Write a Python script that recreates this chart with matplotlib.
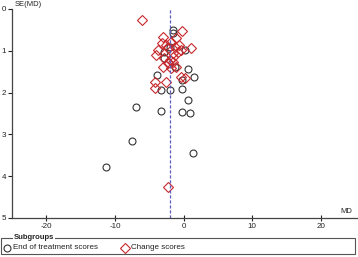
import matplotlib.pyplot as plt
from matplotlib.patches import Rectangle
from matplotlib.lines import Line2D

plt.rcParams['font.family'] = ['Liberation Sans', 'DejaVu Sans']

# ---------- DATA ----------
# End of treatment scores (circles)
eot_md = [-1.6, -1.6, -3.9, -3.3, -1.9, -7.0, -3.3, -2.8, -2.8, -1.2, 0.15,
          0.6, 1.5, -0.2, -0.25, 0.6, -0.2, 0.9, -7.5, -11.3, 1.4, -2.0]
eot_se = [0.50, 0.57, 1.59, 1.95, 1.95, 2.35, 2.44, 1.02, 1.17, 1.38, 0.98,
          1.44, 1.62, 1.70, 1.92, 2.18, 2.47, 2.48, 3.15, 3.77, 3.44, 0.91]

# Change scores (diamonds)
chg_md = [-6.1, -0.2, -3.0, -3.2, -3.7, -4.0, -2.5, -2.3, -1.8, -1.3, -0.6,
          -0.8, -1.6, -0.3, 1.1, -2.8, -1.6, -3.0, -1.8, -1.1, -4.2, -2.5,
          -4.2, -0.3, 0.15, -1.1, -2.2, -2.0, -2.3, -1.5]
chg_se = [0.26, 0.52, 0.66, 0.82, 0.98, 1.10, 0.86, 0.94, 0.78, 0.90, 0.86,
          1.02, 1.06, 0.98, 0.94, 1.18, 1.14, 1.38, 1.42, 1.38, 1.74, 1.74,
          1.90, 1.62, 1.66, 0.70, 4.27, 1.22, 1.29, 1.27]

pooled_md = -2.0
x_ticks = [-20, -10, 0, 10, 20]
y_ticks = [0, 1, 2, 3, 4, 5]

circ_col = "#333333"
diam_col = "#c8282d"

fig = plt.figure(figsize=(3.58, 2.57), dpi=100)
ax = fig.add_axes([0.034, 0.152, 0.963, 0.813])

ax.plot(eot_md, eot_se, linestyle="none", marker="o", markersize=5,
        markerfacecolor="none", markeredgecolor=circ_col, markeredgewidth=0.8)
ax.plot(chg_md, chg_se, linestyle="none", marker="D", markersize=4.7,
        markerfacecolor="none", markeredgecolor=diam_col, markeredgewidth=0.8)
ax.axvline(pooled_md, color="#5c5cc0", linestyle=(0, (2.5, 1.5)), linewidth=0.9)

ax.set_xlim(-25, 25.3)
ax.set_ylim(5, 0)
ax.set_xticks(x_ticks)
ax.set_yticks(y_ticks)
ax.set_xticklabels([str(t) for t in x_ticks])
ax.set_yticklabels([str(t) for t in y_ticks])

for side in ["top", "right"]:
    ax.spines[side].set_visible(False)
for side in ["left", "bottom"]:
    ax.spines[side].set_color("#444444")
    ax.spines[side].set_linewidth(0.9)

ax.tick_params(axis="both", labelsize=5.8, colors="#222222", length=3,
               width=0.8, pad=1.5)
ax.tick_params(axis="x", direction="inout", length=5)

ax.text(0.008, 1.005, "SE(MD)", transform=ax.transAxes, fontsize=5.5,
        color="#222222", ha="left", va="bottom")
ax.text(0.985, 0.015, "MD", transform=ax.transAxes, fontsize=5.5,
        color="#222222", ha="right", va="bottom")

# ---------- LEGEND (drawn by hand) ----------
W, H = 358.0, 257.0
box = Rectangle((1 / W, 1 - 254 / H), 354 / W, 16.5 / H, transform=fig.transFigure,
                fill=False, edgecolor="#555555", linewidth=0.8)
fig.patches.append(box)
fig.text(14 / W, 1 - 237.5 / H, "Subgroups", fontsize=5.5, color="#222222",
         ha="left", va="center", fontweight="bold",
         bbox=dict(facecolor="white", edgecolor="none", pad=0.6))
fig.lines.append(Line2D([6.5 / W], [1 - 247.5 / H], transform=fig.transFigure,
                        marker="o", markersize=5, markerfacecolor="none",
                        markeredgecolor=circ_col, markeredgewidth=0.8))
fig.text(13 / W, 1 - 247.5 / H, "End of treatment scores", fontsize=5.8,
         color="#222222", ha="left", va="center")
fig.lines.append(Line2D([125 / W], [1 - 247.5 / H], transform=fig.transFigure,
                        marker="D", markersize=4.7, markerfacecolor="none",
                        markeredgecolor=diam_col, markeredgewidth=0.8))
fig.text(131 / W, 1 - 247.5 / H, "Change scores", fontsize=5.8,
         color="#222222", ha="left", va="center")

fig.savefig("out.png", dpi=100)
